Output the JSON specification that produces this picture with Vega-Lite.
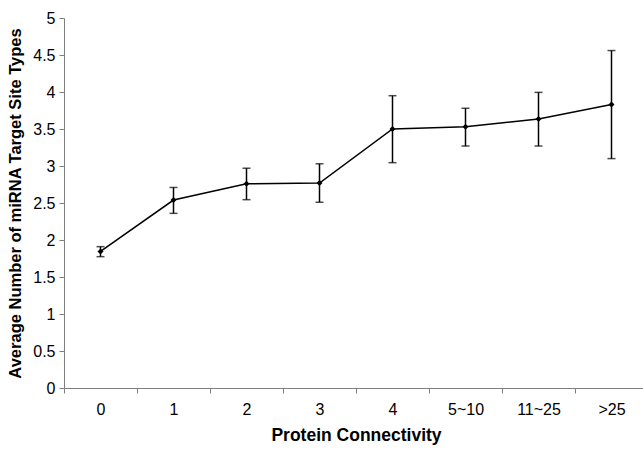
{
  "$schema": "https://vega.github.io/schema/vega-lite/v6.json",
  "autosize": "none",
  "width": 584,
  "height": 370,
  "padding": {"left": 64, "top": 18, "right": 0, "bottom": 63},
  "background": "white",
  "config": {
    "view": {"stroke": null},
    "font": "Liberation Sans",
    "axis": {
      "domainColor": "#7f7f7f",
      "tickColor": "#7f7f7f",
      "domainWidth": 1,
      "tickWidth": 1,
      "tickSize": 5,
      "labelColor": "black",
      "labelFont": "Liberation Sans",
      "labelFontSize": 16,
      "titleFont": "Liberation Sans",
      "titleFontWeight": "bold",
      "titleColor": "black",
      "grid": false
    }
  },
  "data": {
    "values": [
      {"conn": "0", "mean": 1.845, "lo": 1.775, "hi": 1.91},
      {"conn": "1", "mean": 2.54, "lo": 2.36, "hi": 2.71},
      {"conn": "2", "mean": 2.76, "lo": 2.545, "hi": 2.97},
      {"conn": "3", "mean": 2.77, "lo": 2.51, "hi": 3.03},
      {"conn": "4", "mean": 3.5, "lo": 3.045, "hi": 3.95},
      {"conn": "5~10", "mean": 3.53, "lo": 3.27, "hi": 3.78},
      {"conn": "11~25", "mean": 3.635, "lo": 3.27, "hi": 3.995},
      {"conn": ">25", "mean": 3.83, "lo": 3.1, "hi": 4.56}
    ]
  },
  "encoding": {
    "x": {
      "field": "conn",
      "type": "nominal",
      "sort": null,
      "scale": {"type": "band", "paddingInner": 0, "paddingOuter": 0},
      "axis": {
        "title": "Protein Connectivity",
        "titleFontSize": 17.5,
        "titlePadding": 9,
        "labelAngle": 0,
        "labelFontSize": 16,
        "labelPadding": 8,
        "tickBand": "extent"
      }
    }
  },
  "layer": [
    {
      "mark": {"type": "line", "color": "black", "strokeWidth": 1.5},
      "encoding": {
        "y": {
          "field": "mean",
          "type": "quantitative",
          "scale": {"domain": [0, 5], "nice": false, "zero": true},
          "axis": {"title": "Average Number of miRNA Target Site Types", "titleFontSize": 16.5, "titlePadding": 9, "tickCount": 11, "tickMinStep": 0.5, "format": "~g", "labelFontSize": 16, "labelPadding": 4, "labelOverlap": false}
        }
      }
    },
    {
      "mark": {"type": "rule", "color": "black", "strokeWidth": 1.5},
      "encoding": {
        "y": {"field": "lo", "type": "quantitative", "axis": {"title": "Average Number of miRNA Target Site Types", "titleFontSize": 16.5, "titlePadding": 9, "tickCount": 11, "tickMinStep": 0.5, "format": "~g", "labelFontSize": 16, "labelPadding": 4, "labelOverlap": false}},
        "y2": {"field": "hi"}
      }
    },
    {
      "mark": {"type": "tick", "color": "black", "size": 8, "thickness": 1.5, "orient": "horizontal"},
      "encoding": {"y": {"field": "lo", "type": "quantitative", "axis": {"title": "Average Number of miRNA Target Site Types", "titleFontSize": 16.5, "titlePadding": 9, "tickCount": 11, "tickMinStep": 0.5, "format": "~g", "labelFontSize": 16, "labelPadding": 4, "labelOverlap": false}}}
    },
    {
      "mark": {"type": "tick", "color": "black", "size": 8, "thickness": 1.5, "orient": "horizontal"},
      "encoding": {"y": {"field": "hi", "type": "quantitative", "axis": {"title": "Average Number of miRNA Target Site Types", "titleFontSize": 16.5, "titlePadding": 9, "tickCount": 11, "tickMinStep": 0.5, "format": "~g", "labelFontSize": 16, "labelPadding": 4, "labelOverlap": false}}}
    },
    {
      "mark": {"type": "point", "shape": "diamond", "filled": true, "color": "black", "size": 36, "opacity": 1},
      "encoding": {"y": {"field": "mean", "type": "quantitative", "axis": {"title": "Average Number of miRNA Target Site Types", "titleFontSize": 16.5, "titlePadding": 9, "tickCount": 11, "tickMinStep": 0.5, "format": "~g", "labelFontSize": 16, "labelPadding": 4, "labelOverlap": false}}}
    }
  ]
}
